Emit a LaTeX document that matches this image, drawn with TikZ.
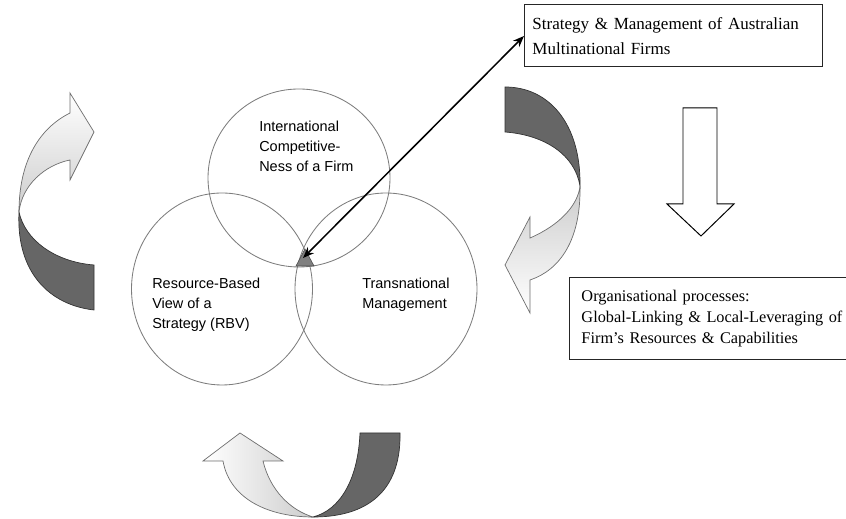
\documentclass[tikz,border=0pt]{standalone}
\usepackage{fontspec}
\setmainfont{Liberation Serif}
\setsansfont{Liberation Sans}
\usepackage{tikz}
\usetikzlibrary{arrows.meta}
\definecolor{ringgray}{RGB}{125,125,125}
\definecolor{taildark}{RGB}{102,102,102}
\definecolor{headlight}{RGB}{205,205,205}
\definecolor{arcline}{RGB}{110,110,110}
\definecolor{coregray}{RGB}{128,128,128}
\tikzset{
  venn/.style={draw=ringgray, line width=0.6pt},
  venntext/.style={anchor=west, align=left, inner sep=0pt,
    font=\sffamily\fontsize{10.3}{14.3}\selectfont},
  textbox/.style={rectangle, draw=black!85, line width=0.7pt, anchor=west,
    align=left, inner ysep=0pt},
  lightarc/.style={draw=arcline, line width=0.5pt},
  darkarc/.style={fill=taildark, draw=black!80, line width=0.5pt},
  blockarrow/.style={draw=black, line width=0.7pt, fill=white},
  link/.style={{Stealth[length=2.8mm,width=2.2mm]}-{Stealth[length=2.8mm,width=2.2mm]}, line width=1.1pt, color=black}
}

\begin{document}
\begin{tikzpicture}[x=0.25cm, y=0.25cm, >=Stealth]
  \useasboundingbox (0,0) rectangle (84.6,51.9);

  % Three overlapping rings
  \draw[venn] (29.9,34.1) ellipse (9.1 and 8.9);
  \draw[venn] (22.2,23.0) ellipse (9.05 and 9.6);
  \draw[venn] (38.6,23.0) ellipse (9.1 and 9.6);

  \node[venntext] (compet) at (25.9,37.3) {International\\Competitive-\\Ness of a Firm};
  \node[venntext] (rbv) at (15.2,21.4) {Resource-Based\\View of a\\Strategy (RBV)};
  \node[venntext] (transnat) at (36.2,22.4) {Transnational\\Management};

  % Centre marker where the rings meet
  \fill[coregray, draw=black!70, line width=0.4pt] (29.6,25.3) -- (31.4,25.3) -- (30.5,27.0) -- cycle;
  \coordinate (core) at (30.3,26.1);

  % Text boxes
  \node[textbox, text width=7.05cm, inner xsep=0.2cm, minimum height=1.55cm,
    font=\fontsize{12.1}{17.8}\selectfont] (strat) at (52.4,48.3)
    {Strategy \& Management of Australian\\Multinational Firms};
  \node[textbox, text width=6.9cm, inner xsep=0.3cm, minimum height=2.05cm,
    font=\fontsize{11.6}{15.0}\selectfont] (orgproc) at (56.9,20.0)
    {Organisational processes:\\Global-Linking \& Local-Leveraging of\\Firm's Resources \& Capabilities};

  % Link between the box and the centre
  \draw[link] (core) -- (strat.west);

  % Block arrow pointing down
  \draw[blockarrow] (68.3,41.1) -- (71.7,41.1) -- (71.7,31.5) -- (73.4,31.5)
    -- (70.1,28.3) -- (66.7,31.5) -- (68.3,31.5) -- cycle;

  % Left curved arrow
  \draw[darkarc] (1.9,30.7) .. controls (1.6,24.6) and (5.0,21.4) .. (9.4,20.9)
    -- (9.4,25.4) .. controls (5.5,25.7) and (2.5,27.9) .. (1.9,30.7) -- cycle;
  \shade[top color=white, bottom color=headlight] (1.9,30.7) .. controls (1.9,35.9) and (4.0,39.1) .. (7.0,40.6)
    -- (7.0,42.6) -- (9.4,38.7) -- (7.0,33.9) -- (7.0,35.9)
    .. controls (4.5,35.4) and (2.2,33.4) .. (1.9,30.7) -- cycle;
  \draw[lightarc] (1.9,30.7) .. controls (1.9,35.9) and (4.0,39.1) .. (7.0,40.6)
    -- (7.0,42.6) -- (9.4,38.7) -- (7.0,33.9) -- (7.0,35.9)
    .. controls (4.5,35.4) and (2.2,33.4) .. (1.9,30.7) -- cycle;

  % Right curved arrow
  \draw[darkarc] (50.5,43.2) .. controls (55.0,43.2) and (58.1,39.4) .. (58.0,33.3)
    .. controls (57.5,36.4) and (54.5,38.4) .. (50.5,38.7) -- cycle;
  \shade[top color=headlight, bottom color=white] (58.0,33.3) .. controls (58.1,27.9) and (56.0,24.9) .. (53.0,23.9)
    -- (53.0,20.6) -- (50.5,25.4) -- (53.0,30.2) -- (53.0,28.1)
    .. controls (56.0,29.4) and (57.8,31.4) .. (58.0,33.3) -- cycle;
  \draw[lightarc] (58.0,33.3) .. controls (58.1,27.9) and (56.0,24.9) .. (53.0,23.9)
    -- (53.0,20.6) -- (50.5,25.4) -- (53.0,30.2) -- (53.0,28.1)
    .. controls (56.0,29.4) and (57.8,31.4) .. (58.0,33.3) -- cycle;

  % Bottom curved arrow
  \draw[darkarc] (31.3,0.2) .. controls (37.5,0.2) and (40.1,3.5) .. (40.0,8.6)
    -- (36.0,8.6) .. controls (35.8,3.9) and (34.0,0.9) .. (31.3,0.2) -- cycle;
  \shade[left color=white, right color=headlight] (22.3,5.8) .. controls (23.0,1.9) and (27.0,0.2) .. (31.3,0.2)
    .. controls (29.0,0.9) and (27.0,2.9) .. (26.3,5.8)
    -- (28.3,5.8) -- (24.0,8.6) -- (20.3,5.8) -- cycle;
  \draw[lightarc] (22.3,5.8) .. controls (23.0,1.9) and (27.0,0.2) .. (31.3,0.2)
    .. controls (29.0,0.9) and (27.0,2.9) .. (26.3,5.8)
    -- (28.3,5.8) -- (24.0,8.6) -- (20.3,5.8) -- cycle;
\end{tikzpicture}
\end{document}
